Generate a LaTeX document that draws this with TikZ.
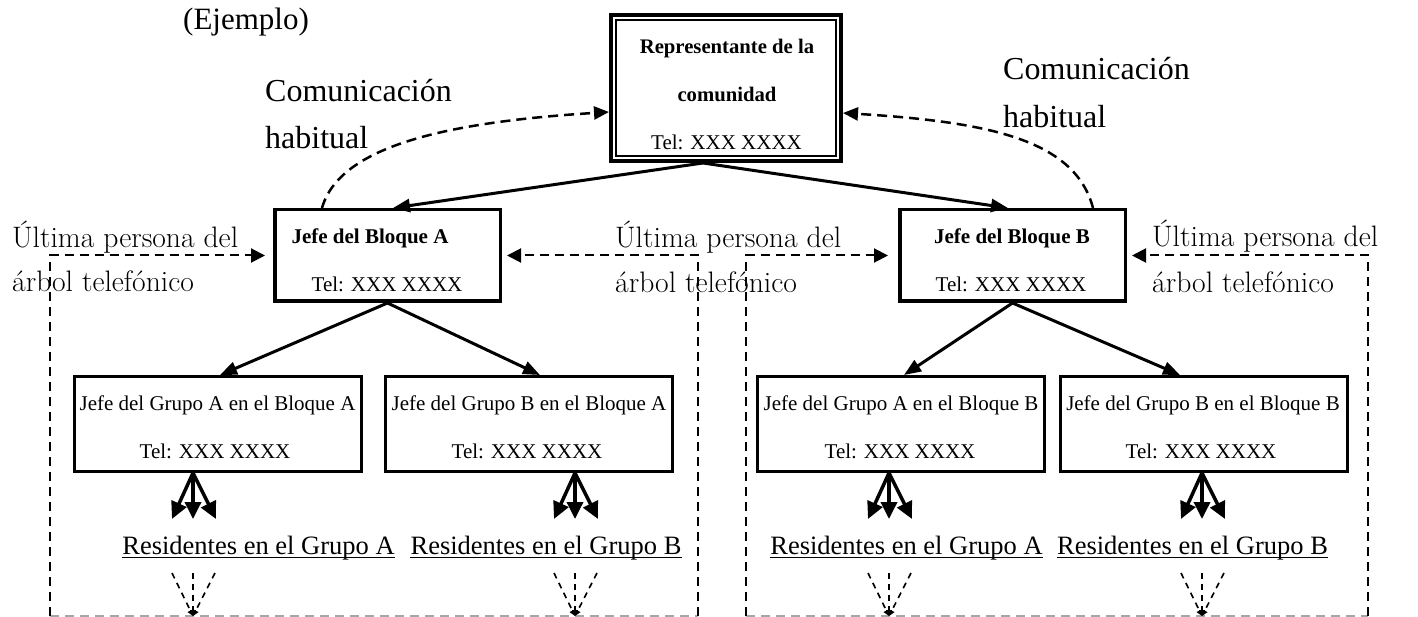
\documentclass[tikz,border=0pt]{standalone}
\usepackage{fontspec}
\newfontfamily\tms{Liberation Serif}
\usetikzlibrary{arrows.meta,calc}
\begin{document}
\begin{tikzpicture}[x=1pt,y=-1pt,
  box/.style={draw, line width=3.5pt, inner sep=0pt, minimum width=225.5pt, minimum height=91.5pt},
  gbox/.style={draw, line width=3pt, inner sep=0pt, minimum width=287pt, minimum height=95pt},
  txt/.style={inner sep=0pt, anchor=base, font=\tms\fontsize{21}{25}\selectfont},
  btxt/.style={inner sep=0pt, anchor=base, font=\tms\bfseries\fontsize{21}{25}\selectfont},
  lbl/.style={inner sep=0pt, anchor=base west, font=\tms\fontsize{32}{38}\selectfont},
  ult/.style={inner sep=0pt, anchor=base west, font=\fontsize{29.6}{35}\selectfont},
  res/.style={inner sep=0pt, anchor=base, font=\tms\fontsize{26.5}{30}\selectfont},
  solidarr/.style={line width=3pt, -{Triangle[length=17pt,width=13pt]}},
  comm/.style={dash pattern=on 10pt off 6pt, line width=2.5pt, -{Triangle[length=15pt,width=13pt]}},
  frame/.style={dash pattern=on 9pt off 6pt, line width=2pt, -{Triangle[length=14pt,width=14pt]}},
  framebot/.style={dash pattern=on 9pt off 6pt, line width=1.8pt, black!35},
  tri/.style={line width=3.5pt, -{Triangle[length=17pt,width=16pt]}},
  smalld/.style={dash pattern=on 6pt off 5pt, line width=1.6pt, -{Triangle[length=6pt,width=6pt]}},
  uline/.style={line width=1.8pt}
]
\useasboundingbox (0,0) rectangle (1418,617);

% title
\node[lbl, font=\tms\fontsize{31}{36}\selectfont] (ej) at (183,30) {(Ejemplo)};

% top box (double frame)
\node[draw, line width=4pt, minimum width=230pt, minimum height=146pt, inner sep=0pt] (rep) at (726,88) {};
\node[draw, line width=2pt, minimum width=220pt, minimum height=136pt, inner sep=0pt] (repin) at (rep.center) {};
\node[btxt, font=\tms\bfseries\fontsize{20.7}{24}\selectfont] (rep1) at (727,54) {Representante de la};
\node[btxt, font=\tms\bfseries\fontsize{20.7}{24}\selectfont] (rep2) at (727,102) {comunidad};
\node[txt] (rep3) at (726.5,150) {Tel: XXX XXXX};

% block boxes
\node[box] (bA) at (387.5,255.5) {};
\node[btxt] (bA1) at (370,244) {Jefe del Bloque A};
\node[txt] (bA2) at (387,292) {Tel: XXX XXXX};
\node[box] (bB) at (1012.5,255.5) {};
\node[btxt] (bB1) at (1012,244) {Jefe del Bloque B};
\node[txt] (bB2) at (1011,292) {Tel: XXX XXXX};

% group boxes
\node[gbox] (g1) at (218,424) {};
\node[txt] (g1a) at (217.5,410) {Jefe del Grupo A en el Bloque A};
\node[txt] (g1b) at (215,458) {Tel: XXX XXXX};
\node[gbox] (g2) at (529,424) {};
\node[txt] (g2a) at (529,410) {Jefe del Grupo B en el Bloque A};
\node[txt] (g2b) at (527,458) {Tel: XXX XXXX};
\node[gbox] (g3) at (900.5,424) {};
\node[txt] (g3a) at (901,410) {Jefe del Grupo A en el Bloque B};
\node[txt] (g3b) at (900,458) {Tel: XXX XXXX};
\node[gbox] (g4) at (1204,424) {};
\node[txt] (g4a) at (1203,410) {Jefe del Grupo B en el Bloque B};
\node[txt] (g4b) at (1201,458) {Tel: XXX XXXX};

% residents
\node[res] (r1) at (258.5,554) {Residentes en el Grupo A};
\node[res] (r2) at (546,554) {Residentes en el Grupo B};
\node[res] (r3) at (906.5,554) {Residentes en el Grupo A};
\node[res] (r4) at (1192.5,554) {Residentes en el Grupo B};
\foreach \r in {r1,r2,r3,r4}{
  \draw[uline] ([yshift=-3.5pt]\r.base west) -- ([yshift=-3.5pt]\r.base east);
}

% labels
\node[lbl] (c1a) at (265,102) {Comunicación};
\node[lbl] (c1b) at (265,149) {habitual};
\node[lbl] (c2a) at (1003,80) {Comunicación};
\node[lbl] (c2b) at (1003,128) {habitual};

\node[ult] (u1a) at (12,248) {Última persona del};
\node[ult] (u1b) at (12,292) {árbol telefónico};
\node[ult] (u2a) at (615,248) {Última persona del};
\node[ult] (u2b) at (615,293) {árbol telefónico};
\node[ult] (u3a) at (1152,247) {Última persona del};
\node[ult] (u3b) at (1152,293) {árbol telefónico};

% solid arrows
\coordinate (apex) at ([xshift=-23pt]rep.south);
\draw[solidarr] (apex) -- ([xshift=5.5pt]bA.north);
\draw[solidarr] (apex) -- ([xshift=-4.5pt]bB.north);
\draw[solidarr] (bA.south) -- ([xshift=2pt]g1.north);
\draw[solidarr] (bA.south) -- ([xshift=11pt]g2.north);
\draw[solidarr] (bB.south) -- ([xshift=3.5pt]g3.north);
\draw[solidarr] (bB.south) -- ([xshift=-24pt]g4.north);

% communication curves
\draw[comm] ([xshift=-65.5pt]bA.north) .. controls (340,145) and (450,122) .. ([yshift=-24pt]rep.west);
\draw[comm] ([xshift=80.5pt]bB.north) .. controls (1075,140) and (990,122) .. ([yshift=-25pt]rep.east);

% dashed frames
\coordinate (fL) at (50,616);
\coordinate (fM1) at (698,616);
\coordinate (fM2) at (746,616);
\coordinate (fR) at (1368,616);
\draw[framebot] (fL) -- (fM1);
\draw[framebot] (fM2) -- (fR);
\draw[frame] (fL) |- ([xshift=-8pt]bA.west);
\draw[frame] (fM1) |- ([xshift=5pt]bA.east);
\draw[frame] (fM2) |- ([xshift=-10pt]bB.west);
\draw[frame] (fR) |- ([xshift=5pt]bB.east);

% triple arrows and dashed fans
\foreach \g/\dx in {g1/-25, g2/46, g3/-11.5, g4/-2}{
  \coordinate (\g o) at ([xshift=\dx pt]\g.south);
  \foreach \k/\ox in {l/-21, m/0, r/23}{
    \coordinate (\g\k) at ($(\g o)+(\ox,46)$);
    \draw[tri] (\g o) -- (\g\k);
  }
  \coordinate (\g tip) at ($(\g o)+(0,143)$);
  \foreach \k/\ox in {l/-21, m/0, r/22}{
    \coordinate (\g s\k) at ($(\g o)+(\ox,100)$);
    \draw[smalld] (\g s\k) -- (\g tip);
  }
}
\end{tikzpicture}
\end{document}
